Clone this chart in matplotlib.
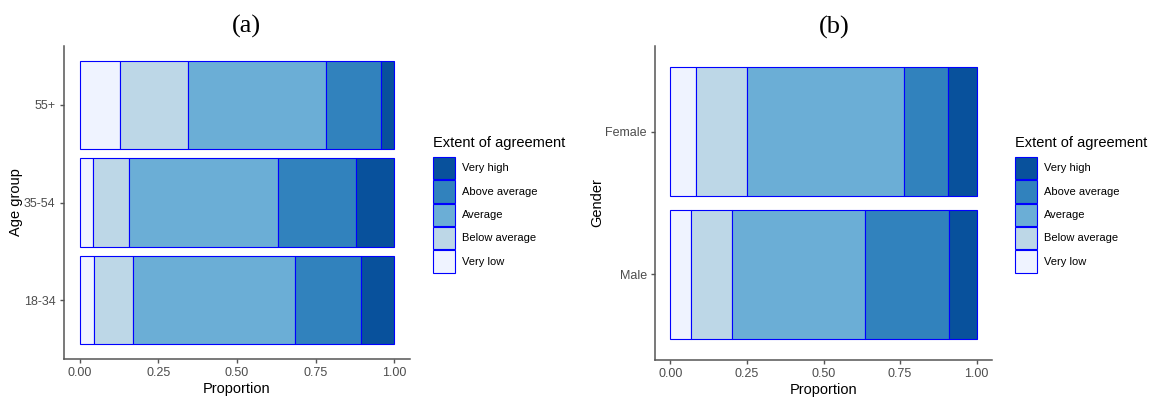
import matplotlib
matplotlib.use('Agg')
import matplotlib.pyplot as plt
import numpy as np
from matplotlib.patches import Patch

plt.rcParams['font.family'] = ['Liberation Sans', 'DejaVu Sans']

# Agreement levels, bottom of the stack first
levels = ['Very low', 'Below average', 'Average', 'Above average', 'Very high']
colors = ['#eff3ff', '#bdd7e7', '#6baed6', '#3182bd', '#08519c']

# Panel (a): proportions per age group (rows bottom to top)
age_groups = ['18-34', '35-54', '55+']
age_props = [
    [0.046, 0.123, 0.514, 0.211, 0.106],
    [0.041, 0.116, 0.474, 0.247, 0.122],
    [0.128, 0.215, 0.439, 0.175, 0.043],
]

# Panel (b): proportions per gender (rows bottom to top)
genders = ['Male', 'Female']
gender_props = [
    [0.066, 0.135, 0.434, 0.276, 0.089],
    [0.083, 0.167, 0.513, 0.144, 0.093],
]

W, H = 1153, 401
fig = plt.figure(figsize=(W / 100, H / 100), dpi=100)


def px_axes(x0, x1, ytop, ybot):
    return fig.add_axes([x0 / W, 1 - ybot / H, (x1 - x0) / W, (ybot - ytop) / H])


def stacked(ax, cats, props, ylabel):
    props = np.array(props)
    y = np.arange(len(cats))
    left = np.zeros(len(cats))
    for j, lev in enumerate(levels):
        ax.barh(y, props[:, j], left=left, height=0.9, color=colors[j],
                edgecolor='#0000ff', linewidth=0.8, label=lev)
        left += props[:, j]
    ax.set_xlim(-0.05, 1.05)
    ax.set_ylim(-0.6, len(cats) - 0.4)
    ax.set_yticks(y)
    ax.set_yticklabels(cats)
    ax.set_xticks([0, 0.25, 0.5, 0.75, 1.0])
    ax.set_xticklabels(['0.00', '0.25', '0.50', '0.75', '1.00'])
    ax.tick_params(colors='#555555', labelcolor='#4d4d4d', labelsize=9,
                   length=3, width=1, pad=3)
    for s in ['top', 'right']:
        ax.spines[s].set_visible(False)
    for s in ['left', 'bottom']:
        ax.spines[s].set_color('#555555')
        ax.spines[s].set_linewidth(1.1)
    ax.set_xlabel('Proportion', fontsize=10.5, labelpad=2)
    ax.set_ylabel(ylabel, fontsize=10.5, labelpad=1)


def legend(x, ytop):
    handles = [Patch(facecolor=colors[j], edgecolor='#0000ff', linewidth=0.8, label=levels[j])
               for j in range(len(levels) - 1, -1, -1)]
    fig.legend(handles=handles, loc='upper left', bbox_to_anchor=(x / W, 1 - ytop / H),
               frameon=False, fontsize=8, handlelength=2.0, handleheight=2.7,
               labelspacing=0.1, handletextpad=0.65, borderpad=0, borderaxespad=0)
    fig.text(x / W, 1 - (ytop - 14) / H, 'Extent of agreement', ha='left', va='center',
             fontsize=10.5)


def panel_title(x, y, text):
    fig.text(x / W, 1 - y / H, text, ha='center', va='center', fontsize=19,
             family=['Liberation Serif', 'DejaVu Serif'])


ax1 = px_axes(64, 410, 46, 359)
stacked(ax1, age_groups, age_props, 'Age group')
legend(433, 157)
panel_title(246, 26, '(a)')

ax2 = px_axes(655, 992, 46, 360)
stacked(ax2, genders, gender_props, 'Gender')
legend(1015, 157)
panel_title(834, 27, '(b)')

fig.savefig('out.png', dpi=100)
